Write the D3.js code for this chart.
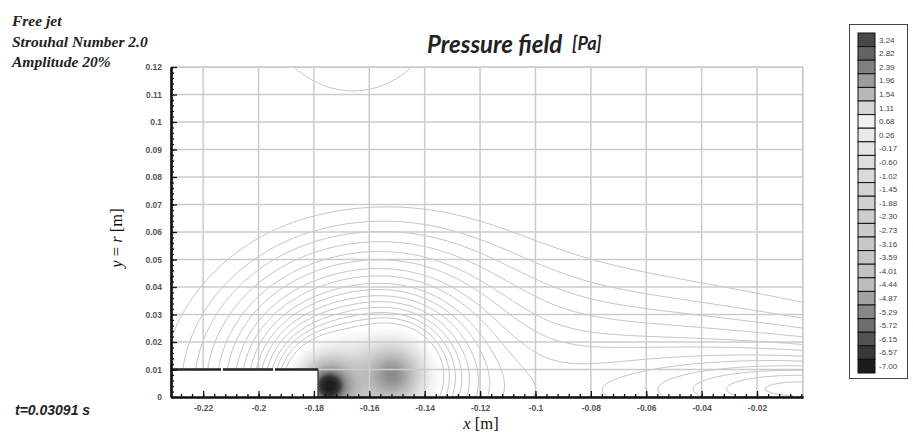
<!DOCTYPE html>
<html>
<head>
<meta charset="utf-8">
<script src="https://cdn.jsdelivr.net/npm/d3@7"></script>
<style>
body{margin:0;background:#fff;}
svg{display:block;font-family:"Liberation Sans",Arial,sans-serif;}
</style>
</head>
<body>
<div id="canvas"></div>
<script>
// ---- data ----
var xTicks = [-0.22,-0.2,-0.18,-0.16,-0.14,-0.12,-0.1,-0.08,-0.06,-0.04,-0.02];
var xTickLabels = ['-0.22','-0.2','-0.18','-0.16','-0.14','-0.12','-0.1','-0.08','-0.06','-0.04','-0.02'];
var yTicks = [0,0.01,0.02,0.03,0.04,0.05,0.06,0.07,0.08,0.09,0.1,0.11,0.12];
var yTickLabels = ['0','0.01','0.02','0.03','0.04','0.05','0.06','0.07','0.08','0.09','0.1','0.11','0.12'];

var legendLevels = [3.24,2.82,2.39,1.96,1.54,1.11,0.68,0.26,-0.17,-0.60,-1.02,-1.45,-1.88,-2.30,-2.73,-3.16,-3.59,-4.01,-4.44,-4.87,-5.29,-5.72,-6.15,-6.57,-7.00];
var legendLabels = ['3.24','2.82','2.39','1.96','1.54','1.11','0.68','0.26','-0.17','-0.60','-1.02','-1.45','-1.88','-2.30','-2.73','-3.16','-3.59','-4.01','-4.44','-4.87','-5.29','-5.72','-6.15','-6.57','-7.00'];

// pressure features seen in the field: centre [m], peak [Pa], radii [m]
var featName = ['main vortex','lip vortex','jet core','outer wake','upper lobe'];
var featX  = [-0.1515,-0.1745, 0.0,  -0.06,  -0.165];
var featY  = [ 0.008,  0.004,  0.003, 0.0,    0.135];
var featP  = [-4.5,   -9.0,   -0.6,  -0.22,   0.15];
var featRx = [ 0.0088, 0.0055, 0.05,  0.1,    0.022];
var featRy = [ 0.0088, 0.0055, 0.01,  0.05,   0.025];

// isolines drawn on the white part [Pa]
var lineLevels = [-1.2,-1.06,-0.94,-0.84,-0.75,-0.67,-0.6,-0.54,-0.48,-0.43,-0.38,-0.34,-0.3,-0.265,-0.235,-0.2,-0.012];

var nozzleEnd = -0.1785, nozzleR = 0.01;
var xMin = -0.2316, xMax = -0.0034, yMin = 0, yMax = 0.12;

// ---- layout ----
var W = 913, H = 432;
var m = {l:171, r:110, t:67, b:35};

var svg = d3.select('#canvas').append('svg')
    .attr('width',W).attr('height',H);

var scaleX = d3.scaleLinear().domain([xMin,xMax]).range([m.l, W-m.r]);
var scaleY = d3.scaleLinear().domain([yMin,yMax]).range([H-m.b, m.t]);

svg.append('clipPath').attr('id','plotclip')
  .append('rect')
    .attr('x',scaleX(xMin)).attr('y',scaleY(yMax))
    .attr('width',scaleX(xMax)-scaleX(xMin))
    .attr('height',scaleY(yMin)-scaleY(yMax));

// field from the features
function pressure(x,y){
  var p = 0;
  for (var k=0;k<featX.length;k++){
    var dx = (x-featX[k])/featRx[k], dy = (y-featY[k])/featRy[k];
    p += featP[k]/(1+dx*dx+dy*dy);
  }
  return p;
}

var nx = 240, ny = 126;
var gx = (xMax-xMin)/nx, gy = (yMax-yMin)/ny;
var values = new Array(nx*ny), neg = new Array(nx*ny);
for (var j=0;j<ny;j++){
  for (var i=0;i<nx;i++){
    var v = pressure(xMin+(i+0.5)*gx, yMin+(j+0.5)*gy);
    values[j*nx+i] = v;
    neg[j*nx+i] = -v;
  }
}

var proj = d3.geoTransform({point:function(x,y){
  this.stream.point(scaleX(xMin+x*gx), scaleY(yMin+y*gy));
}});
var path = d3.geoPath(proj);

var field = svg.append('g').attr('clip-path','url(#plotclip)');

// flood (only the low pressure cores are shaded)
var fillColor = d3.scaleLinear()
    .domain([-9,-7,-5.5,-4,-2.5,-1.2])
    .range(['#1e1e1e','#3a3a3a','#7e7e7e','#a8a8a8','#d2d2d2','#ffffff'])
    .clamp(true);
var fillSteps = d3.range(1.2, 10.5, 0.12);
var fills = d3.contours().size([nx,ny]).thresholds(fillSteps)(neg);
field.selectAll('.flood')
    .data(fills)
    .enter()
    .append('path')
    .attr('class','flood')
    .attr('d',path)
    .attr('fill',function(d){return fillColor(-d.value);})
    .attr('stroke','none');

// isolines
var lines = d3.contours().size([nx,ny]).thresholds(lineLevels)(values);
field.selectAll('.iso')
    .data(lines)
    .enter()
    .append('path')
    .attr('class','iso')
    .attr('d',path)
    .attr('fill','none')
    .attr('stroke','#c4c4c4')
    .attr('stroke-width',1);

// grid
var grid = svg.append('g');
grid.selectAll('.gx')
    .data(xTicks)
    .enter()
    .append('line')
    .attr('x1',function(d){return scaleX(d);})
    .attr('x2',function(d){return scaleX(d);})
    .attr('y1',scaleY(yMax))
    .attr('y2',scaleY(yMin))
    .attr('stroke','#cbcbcb').attr('stroke-width',1.5);
grid.selectAll('.gy')
    .data(yTicks.filter(function(d){return d>0;}))
    .enter()
    .append('line')
    .attr('x1',scaleX(xMin))
    .attr('x2',scaleX(xMax))
    .attr('y1',function(d){return scaleY(d);})
    .attr('y2',function(d){return scaleY(d);})
    .attr('stroke','#cbcbcb').attr('stroke-width',1.5);
grid.append('line')
    .attr('x1',scaleX(xMax)).attr('x2',scaleX(xMax))
    .attr('y1',scaleY(yMax)).attr('y2',scaleY(yMin))
    .attr('stroke','#cbcbcb').attr('stroke-width',1.5);

// nozzle
svg.append('rect')
    .attr('x',scaleX(xMin)).attr('y',scaleY(nozzleR))
    .attr('width',scaleX(nozzleEnd)-scaleX(xMin))
    .attr('height',scaleY(0)-scaleY(nozzleR))
    .attr('fill','#fff');
svg.append('line')
    .attr('x1',scaleX(xMin)).attr('x2',scaleX(nozzleEnd))
    .attr('y1',scaleY(nozzleR)).attr('y2',scaleY(nozzleR))
    .attr('stroke','#222').attr('stroke-width',2.5)
    .attr('stroke-dasharray','50,2');
svg.append('line')
    .attr('x1',scaleX(nozzleEnd)).attr('x2',scaleX(nozzleEnd))
    .attr('y1',scaleY(nozzleR)).attr('y2',scaleY(0))
    .attr('stroke','#444').attr('stroke-width',1.5);

// axes
var axisY = d3.axisLeft(scaleY)
    .tickValues(yTicks)
    .tickFormat(function(d,i){return yTickLabels[i];})
    .tickSizeInner(-6).tickSizeOuter(0).tickPadding(9);
var axisYMinor = d3.axisLeft(scaleY)
    .tickValues(scaleY.ticks(60))
    .tickFormat('').tickSizeInner(-3).tickSizeOuter(0);
var axisX = d3.axisBottom(scaleX)
    .tickValues(xTicks)
    .tickFormat(function(d,i){return xTickLabels[i];})
    .tickSizeInner(-6).tickSizeOuter(0).tickPadding(8);
var axisXMinor = d3.axisBottom(scaleX)
    .tickValues(d3.range(-0.228,-0.003,0.004))
    .tickFormat('').tickSizeInner(-3).tickSizeOuter(0);

svg.append('g').attr('class','axis axis-y-minor')
    .attr('transform','translate('+m.l+',0)').call(axisYMinor);
svg.append('g').attr('class','axis axis-x-minor')
    .attr('transform','translate(0,'+(H-m.b)+')').call(axisXMinor);
svg.append('g').attr('class','axis axis-y')
    .attr('transform','translate('+m.l+',0)').call(axisY);
svg.append('g').attr('class','axis axis-x')
    .attr('transform','translate(0,'+(H-m.b)+')').call(axisX);

svg.selectAll('.axis .domain').attr('stroke','#111').attr('stroke-width',2.2);
svg.selectAll('.axis .tick line').attr('stroke','#111').attr('stroke-width',1.3);
svg.selectAll('.axis .tick text')
    .attr('fill','#555').attr('font-size',8.5).attr('font-weight','bold');

// axis titles
svg.append('text')
    .attr('transform','translate(122,238) rotate(-90)')
    .attr('text-anchor','middle')
    .attr('font-family','"Liberation Serif",serif')
    .attr('font-size',16.5).attr('fill','#111')
    .html('<tspan font-style="italic">y</tspan> = <tspan font-style="italic">r</tspan> [m]');
svg.append('text')
    .attr('x',481).attr('y',429)
    .attr('text-anchor','middle')
    .attr('font-family','"Liberation Serif",serif')
    .attr('font-size',16.5).attr('fill','#111')
    .html('<tspan font-style="italic">x</tspan> [m]');

// title
svg.append('text')
    .attr('x',427).attr('y',53)
    .attr('font-family','Lato,"Open Sans",sans-serif')
    .attr('font-style','italic').attr('font-weight','bold')
    .attr('font-size',24).attr('fill','#222')
    .html('Pressure field<tspan dx="10" dy="-3" font-size="18">[Pa]</tspan>');

// run info
var info = ['Free jet','Strouhal Number 2.0','Amplitude 20%'];
svg.selectAll('.info')
    .data(info)
    .enter()
    .append('text')
    .attr('x',12)
    .attr('y',function(d,i){return 26+i*20.5;})
    .attr('font-family','"Liberation Serif",serif')
    .attr('font-style','italic').attr('font-weight','bold')
    .attr('font-size',15.5).attr('fill','#222')
    .text(function(d){return d;});
svg.append('text')
    .attr('x',15).attr('y',415)
    .attr('font-family','"Liberation Sans",sans-serif')
    .attr('font-style','italic').attr('font-weight','bold')
    .attr('font-size',14).attr('fill','#222')
    .text('t=0.03091 s');

// legend
var legendColor = d3.scaleLinear()
    .domain([-7,-4.4,-1.5,0.7,3.24])
    .range(['#1c1c1c','#c0c0c0','#d2d2d2','#f0f0f0','#474747']);
var lg = svg.append('g').attr('transform','translate(849,24)');
lg.append('rect')
    .attr('x',0.5).attr('y',0.5).attr('width',58).attr('height',354)
    .attr('fill','#fff').attr('stroke','#444').attr('stroke-width',1);
var sw = 13.6;
lg.selectAll('.sw')
    .data(legendLevels)
    .enter()
    .append('rect')
    .attr('x',9).attr('y',function(d,i){return 9+i*sw;})
    .attr('width',17).attr('height',sw)
    .attr('fill',function(d){return legendColor(d);})
    .attr('stroke','#111').attr('stroke-width',1);
lg.selectAll('.lab')
    .data(legendLabels)
    .enter()
    .append('text')
    .attr('x',30).attr('y',function(d,i){return 9+i*sw+sw/2;})
    .attr('dy','0.35em')
    .attr('font-size',8).attr('fill','#444')
    .text(function(d){return d;});
</script>
</body>
</html>
